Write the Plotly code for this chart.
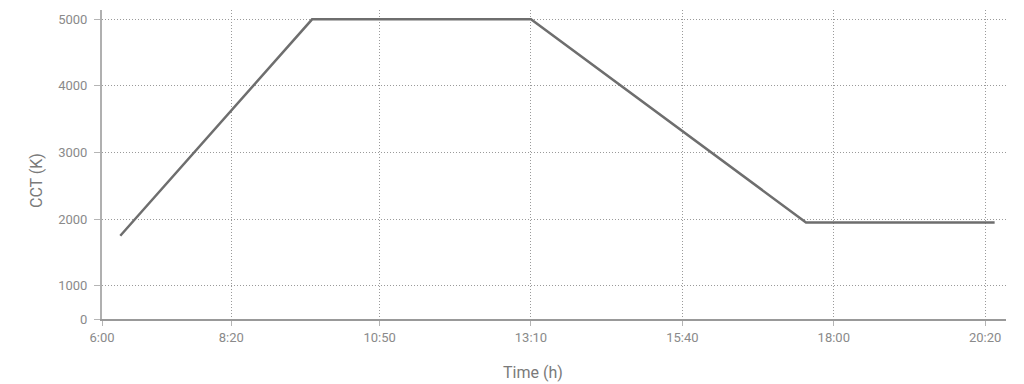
import plotly.graph_objects as go

# CCT schedule over the day (x in axis hours, y in kelvin)
time_h = [6.69, 9.73, 13.2, 17.56, 20.55]
cct_k = [1750, 5000, 5000, 1950, 1950]

x_tick_vals = [6.4, 8.45, 10.8, 13.2, 15.6, 18.0, 20.4]
x_tick_text = ["6:00", "8:20", "10:50", "13:10", "15:40", "18:00", "20:20"]
y_tick_vals = [500, 1000, 2000, 3000, 4000, 5000]
y_tick_text = ["0", "1000", "2000", "3000", "4000", "5000"]

tick_font = dict(family="Roboto", size=13, color="#8a8a8a")
title_font = dict(family="Roboto", size=16, color="#7a7a7a")

# page body has an 8px margin, so the figure is offset by 8px
L, T, R, B = 94, 2, 26, 73
W, H = 1024, 384
plot_w = W - L - R
plot_h = H - T - B

fig = go.Figure()
fig.add_trace(go.Scatter(
    x=time_h, y=cct_k, mode="lines",
    line=dict(color="#6e6e6e", width=2.5),
    hoverinfo="skip", showlegend=False,
))

fig.update_layout(
    width=W, height=H,
    margin=dict(l=L, r=R, t=T, b=B),
    paper_bgcolor="white", plot_bgcolor="white",
    font=dict(family="Roboto", color="#7a7a7a"),
    annotations=[
        dict(text="Time (h)", xref="paper", yref="paper",
             x=(525 - L) / plot_w, y=-(364 - (H - B)) / plot_h,
             xanchor="center", yanchor="middle",
             showarrow=False, font=title_font),
        dict(text="CCT (K)", xref="paper", yref="paper", textangle=-90,
             x=-(L - 28) / plot_w, y=((H - B) - 173) / plot_h,
             xanchor="center", yanchor="middle",
             showarrow=False, font=title_font),
    ],
)

fig.update_xaxes(
    range=[6.4, 20.73], tickvals=x_tick_vals, ticktext=x_tick_text,
    showgrid=True, gridcolor="#9a9a9a", griddash="1px,2px", gridwidth=1,
    showline=True, linecolor="#999999", linewidth=2,
    ticks="outside", ticklen=5, tickcolor="#b5b5b5", tickwidth=1,
    tickfont=tick_font, zeroline=False,
)
fig.update_yaxes(
    range=[500, 5140], tickvals=y_tick_vals, ticktext=y_tick_text,
    showgrid=True, gridcolor="#9a9a9a", griddash="1px,2px", gridwidth=1,
    showline=True, linecolor="#b0b0b0", linewidth=2,
    ticks="outside", ticklen=6, tickcolor="#b5b5b5", tickwidth=1,
    ticklabelstandoff=4, tickfont=tick_font, zeroline=False,
)

fig.write_html("out.html")
